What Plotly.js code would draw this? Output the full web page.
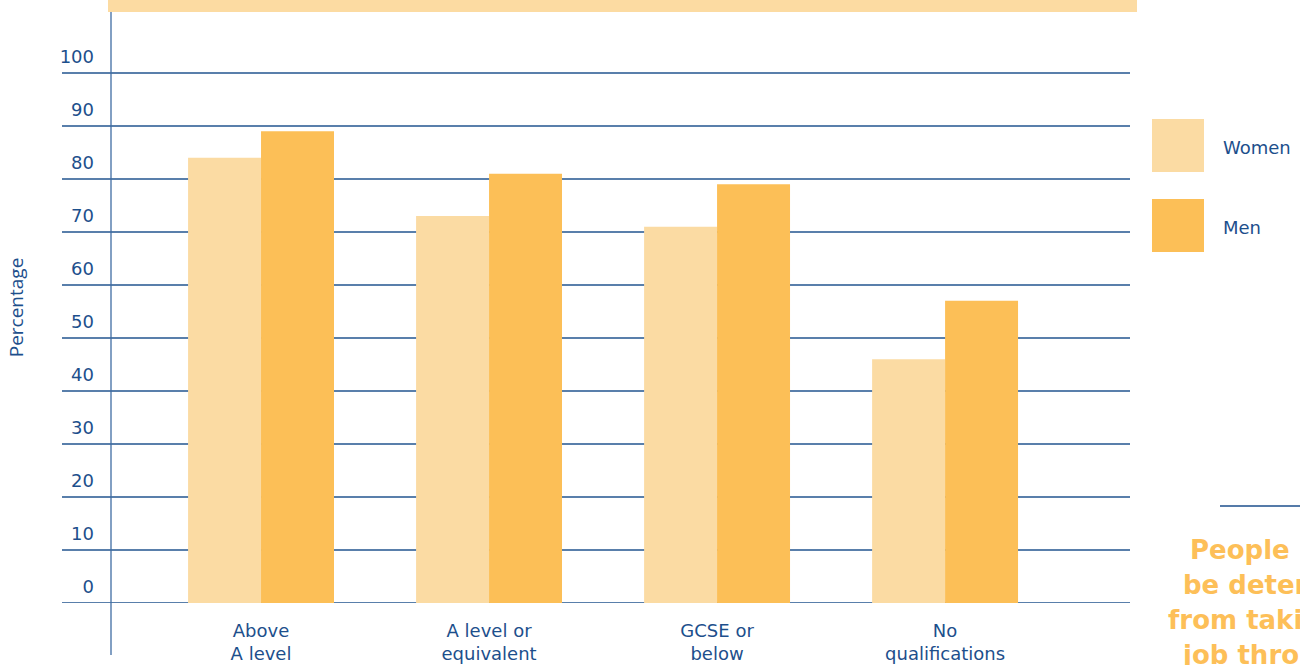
<!DOCTYPE html>
<html>
<head>
<meta charset="utf-8">
<script src="https://cdn.plot.ly/plotly-3.0.1.min.js"></script>
<style>
  html, body { margin: 0; padding: 0; background: #ffffff; }
  #chart { width: 1300px; height: 665px; }
</style>
</head>
<body>
<div id="chart"></div>
<script>
// Economic activity rates by highest qualification
const categories = ['Above<br>A level', 'A level or<br>equivalent', 'GCSE or<br>below', 'No<br>qualifications'];
const women = [84, 73, 71, 46];
const men = [89, 81, 79, 57];
const seriesNames = ['Women', 'Men'];
const yTicks = [0, 10, 20, 30, 40, 50, 60, 70, 80, 90, 100];
const sideNote = ['People may', 'be deterred', 'from taking a', 'job through'];

const W = 1300, H = 665;
const M = { l: 111, r: 170, t: 12, b: 62 };
const PW = W - M.l - M.r, PH = H - M.t - M.b;
// pixel -> paper helpers for the decorations around the plot
const px = x => (x - M.l) / PW;
const py = y => (H - M.b - y) / PH;

const BLUE = '#1d4f8c';
const GRID = '#22558f';
const LIGHT = '#fbdba3';
const DARK = '#fcbf57';
const FONT = 'DejaVu Sans, Verdana, sans-serif';

const traces = [
  { type: 'bar', name: seriesNames[0], x: categories, y: women,
    marker: { color: LIGHT, line: { width: 0 } }, hoverinfo: 'x+y' },
  { type: 'bar', name: seriesNames[1], x: categories, y: men,
    marker: { color: DARK, line: { width: 0 } }, hoverinfo: 'x+y' }
];

const shapes = [];
// horizontal rules, running out past the axis line to the left
yTicks.forEach(v => {
  shapes.push({ type: 'line', layer: 'below', xref: 'paper', yref: 'y',
    x0: px(62), x1: 1, y0: v, y1: v, line: { color: GRID, width: 1.4 } });
});
// vertical axis line reaching down past the baseline
shapes.push({ type: 'line', layer: 'above', xref: 'paper', yref: 'paper',
  x0: 0, x1: 0, y0: py(655), y1: 1, line: { color: '#3f6ca3', width: 1.3 } });
// banner strip along the top
shapes.push({ type: 'rect', xref: 'paper', yref: 'paper',
  x0: px(108), x1: px(1137), y0: 1, y1: py(0), fillcolor: '#fcdba2', line: { width: 0 } });
// legend swatches
shapes.push({ type: 'rect', xref: 'paper', yref: 'paper',
  x0: px(1152), x1: px(1204), y0: py(172), y1: py(119), fillcolor: LIGHT, line: { width: 0 } });
shapes.push({ type: 'rect', xref: 'paper', yref: 'paper',
  x0: px(1152), x1: px(1204), y0: py(252), y1: py(199), fillcolor: DARK, line: { width: 0 } });
// rule above the side note
shapes.push({ type: 'line', xref: 'paper', yref: 'paper',
  x0: px(1220), x1: px(1300), y0: py(506), y1: py(506), line: { color: BLUE, width: 1.6 } });

const annotations = [
  { xref: 'paper', yref: 'paper', x: px(1221), y: py(147), xanchor: 'left', yanchor: 'middle',
    text: seriesNames[0], showarrow: false, font: { family: FONT, size: 18, color: BLUE } },
  { xref: 'paper', yref: 'paper', x: px(1221), y: py(227), xanchor: 'left', yanchor: 'middle',
    text: seriesNames[1], showarrow: false, font: { family: FONT, size: 18, color: BLUE } }
];
const noteLeft = [1188, 1181, 1166, 1180];
const noteY = [550, 585, 620, 655];
sideNote.forEach((t, i) => {
  annotations.push({ xref: 'paper', yref: 'paper', x: px(noteLeft[i]), y: py(noteY[i]),
    xanchor: 'left', yanchor: 'middle', text: '<b>' + t + '</b>', showarrow: false,
    font: { family: FONT, size: 26, color: '#fdbf58' } });
});

const layout = {
  width: W, height: H,
  margin: M,
  paper_bgcolor: '#ffffff', plot_bgcolor: '#ffffff',
  font: { family: FONT, size: 18, color: BLUE },
  barmode: 'group', bargap: 0.36, bargroupgap: 0,
  showlegend: false,
  xaxis: {
    type: 'category', range: [-0.658, 3.811], fixedrange: true,
    showgrid: false, zeroline: false, showline: false, ticks: '',
    tickfont: { family: FONT, size: 18, color: BLUE },
    ticklabelstandoff: 15
  },
  yaxis: {
    range: [0, 111.5], fixedrange: true,
    tickvals: yTicks, ticktext: yTicks.map(String),
    showgrid: false, zeroline: false, showline: false, ticks: '',
    tickfont: { family: FONT, size: 18, color: BLUE },
    ticklabelstandoff: 16, ticklabelshift: -16,
    title: { text: 'Percentage', standoff: 30,
      font: { family: 'Open Sans, Noto Sans, sans-serif', size: 19, color: BLUE } }
  },
  shapes: shapes,
  annotations: annotations
};

Plotly.newPlot('chart', traces, layout, { displayModeBar: false, staticPlot: true });
</script>
</body>
</html>
